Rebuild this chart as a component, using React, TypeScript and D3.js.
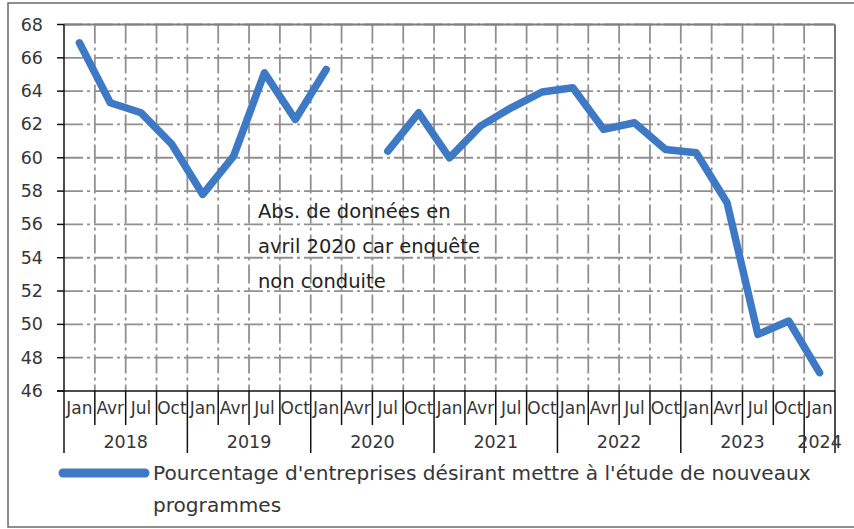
import React from "react";
import * as d3 from "d3";

const quarters = ["Jan", "Avr", "Jul", "Oct", "Jan", "Avr", "Jul", "Oct", "Jan", "Avr", "Jul", "Oct", "Jan", "Avr", "Jul", "Oct", "Jan", "Avr", "Jul", "Oct", "Jan", "Avr", "Jul", "Oct", "Jan"];
const years = ["2018", "2019", "2020", "2021", "2022", "2023", "2024"];
const values: (number | null)[] = [66.9, 63.3, 62.7, 60.8, 57.8, 60.1, 65.1, 62.3, 65.3, null, 60.4, 62.7, 60.0, 61.9, 63.0, 63.95, 64.2, 61.7, 62.1, 60.5, 60.3, 57.3, 49.4, 50.2, 47.1];
const yTicks = [46, 48, 50, 52, 54, 56, 58, 60, 62, 64, 66, 68];
const seriesName = "Pourcentage d'entreprises désirant mettre à l'étude de nouveaux";
const seriesName2 = "programmes";
const noteLines = ["Abs. de données en", "avril 2020 car enquête", "non conduite"];

const W = 854, H = 529;
const left = 64, right = 835, top = 24.5, bottom = 391;
const FONT = "'DejaVu Sans', sans-serif";
const TXT = "#363636";
const BLUE = "#3E79C5";
const GRID = "#909090";

export default function App() {
  const idx = quarters.map((_, i) => i);
  const x = d3.scaleBand<number>().domain(idx).range([left, right]).padding(0);
  const bw = x.bandwidth();
  const y = d3.scaleLinear().domain([46, 68]).range([bottom, top]);
  const line = d3
    .line<number | null>()
    .defined((d) => d !== null)
    .x((_, i) => (x(i) as number) + bw / 2)
    .y((d) => y(d as number));
  const boundaries = d3.range(quarters.length + 1).map((i) => left + i * bw);
  const yearStarts = [0, 4, 8, 12, 16, 20, 24];
  const yearEnds = [4, 8, 12, 16, 20, 24, 25];
  const longTicks = new Set([0, 4, 8, 12, 16, 20, 24, 25]);

  return (
    <svg width={W} height={H} style={{ position: "absolute", left: 0, top: 0, background: "#fff" }}>
      <rect x={8} y={3} width={860} height={524} fill="#fff" stroke="#6a6a6a" strokeWidth={1.5} />
      {/* horizontal grid */}
      {yTicks.filter((t) => t > 46).map((t) => (
        <line key={"h" + t} x1={left} x2={right} y1={y(t)} y2={y(t)} stroke={GRID} strokeWidth={1.8} strokeDasharray="19 4 3 4" />
      ))}
      {/* vertical grid */}
      {boundaries.slice(1, -1).map((bx, i) => (
        <line key={"v" + i} x1={bx} x2={bx} y1={top} y2={bottom} stroke={GRID} strokeWidth={1.8} strokeDasharray="19 4 3 4" />
      ))}
      {/* plot border */}
      <line x1={left} x2={right} y1={top} y2={top} stroke="#808080" strokeWidth={1.8} />
      <line x1={right} x2={right} y1={top} y2={bottom} stroke="#6a6a6a" strokeWidth={1.8} />
      {/* y axis */}
      <line x1={left} x2={left} y1={top} y2={bottom} stroke="#111" strokeWidth={1.5} />
      {yTicks.map((t) => (
        <g key={"y" + t}>
          <line x1={left - 7} x2={left} y1={y(t)} y2={y(t)} stroke="#111" strokeWidth={1.5} />
          <text x={43} y={y(t) + 6} textAnchor="end" fontFamily={FONT} fontSize={17.5} fill={TXT}>{t}</text>
        </g>
      ))}
      {/* x axis */}
      <line x1={left - 7} x2={right} y1={bottom} y2={bottom} stroke="#111" strokeWidth={1.5} />
      {boundaries.map((bx, i) => (
        <line key={"t" + i} x1={bx} x2={bx} y1={bottom} y2={longTicks.has(i) ? 453 : 425} stroke="#111" strokeWidth={1.5} />
      ))}
      {quarters.map((q, i) => (
        <text key={"q" + i} x={(x(i) as number) + bw / 2} y={414} textAnchor="middle" fontFamily={FONT} fontSize={17} fill={TXT}>{q}</text>
      ))}
      {years.map((yr, i) => (
        <text key={"yr" + yr} x={(boundaries[yearStarts[i]] + boundaries[yearEnds[i]]) / 2} y={448} textAnchor="middle" fontFamily={FONT} fontSize={17.5} fill={TXT}>{yr}</text>
      ))}
      {/* data line */}
      <path d={line(values) || ""} fill="none" stroke={BLUE} strokeWidth={7.5} strokeLinejoin="round" strokeLinecap="round" />
      {/* annotation */}
      {noteLines.map((l, i) => (
        <text key={"n" + i} x={258} y={218 + i * 35} fontFamily={FONT} fontSize={19.5} fill="#222">{l}</text>
      ))}
      {/* legend */}
      <line x1={63} x2={145} y1={473} y2={473} stroke={BLUE} strokeWidth={9} strokeLinecap="round" />
      <text x={153} y={480} fontFamily={FONT} fontSize={20.1} fill={TXT}>{seriesName}</text>
      <text x={153} y={512} fontFamily={FONT} fontSize={20.1} fill={TXT}>{seriesName2}</text>
    </svg>
  );
}
